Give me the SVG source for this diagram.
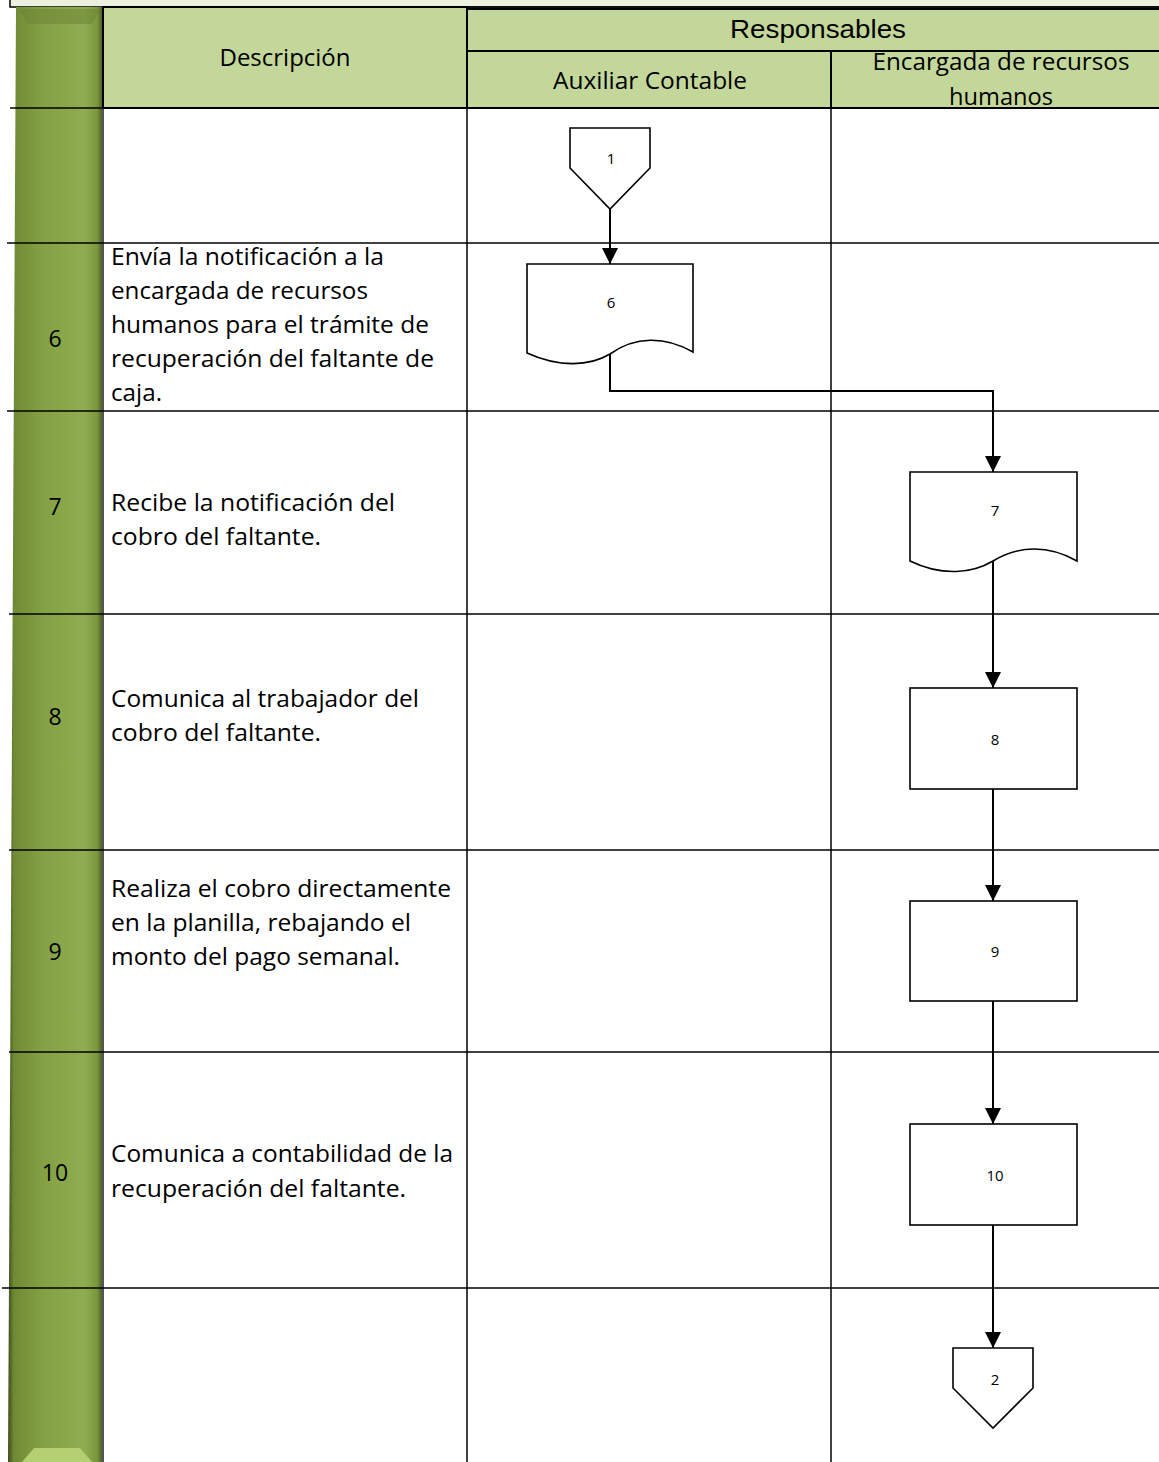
<svg xmlns="http://www.w3.org/2000/svg" width="1159" height="1462" viewBox="0 0 1159 1462">
<defs>
<style>
.t{font-family:"Open Sans","Liberation Sans",sans-serif;font-size:23px;fill:#000}
.h{font-family:"Open Sans","Liberation Sans",sans-serif;font-size:23px;fill:#000;text-anchor:middle}
.r{font-family:"Liberation Sans",Arial,sans-serif;font-size:26px;fill:#000;text-anchor:middle}
.n{font-family:"Open Sans","Liberation Sans",sans-serif;font-size:23px;fill:#000;text-anchor:middle}
.s{font-family:"Open Sans","Liberation Sans",sans-serif;font-size:15px;fill:#000;text-anchor:middle}
.g{stroke:#000;stroke-width:1.5;fill:none}
.hd{fill:#C4D79B;stroke:#000;stroke-width:2}
.sh{fill:#fff;stroke:#000;stroke-width:1.6}
.c{stroke:#000;stroke-width:2;fill:none;marker-end:url(#ah)}
</style>
<linearGradient id="bar" x1="0" y1="0" x2="1" y2="0">
<stop offset="0" stop-color="#3d4a1c"/>
<stop offset="0.06" stop-color="#6f8a34"/>
<stop offset="0.35" stop-color="#84a044"/>
<stop offset="0.8" stop-color="#8fad50"/>
<stop offset="0.93" stop-color="#7a963c"/>
<stop offset="1" stop-color="#3f4a22"/>
</linearGradient>
<marker id="ah" viewBox="0 0 16 16" refX="16" refY="8" markerWidth="16" markerHeight="16" markerUnits="userSpaceOnUse" orient="auto">
<path d="M0,0 L16,8 L0,16 Z" fill="#000"/>
</marker>
</defs>
<rect width="1159" height="1462" fill="#fff"/>
<g id="topstrip">
<rect x="10" y="-2" width="1152" height="9" fill="#EBF1DE" stroke="#000" stroke-width="1.5"/>
</g>
<g id="bar-group">
<polygon points="16,7 103,7 104,1462 8,1462" fill="url(#bar)"/>
<polygon points="19,9 100,9 92,24 27,24" fill="#6a8233" opacity="0.5"/>
<polygon points="22,1462 92,1462 80,1448 34,1448" fill="#b3cf72"/>
<line x1="103" y1="7" x2="103" y2="1462" stroke="#555" stroke-width="2"/>
</g>
<g id="header">
<rect id="h-desc" class="hd" x="103" y="7" width="364" height="101"/>
<rect id="h-resp" class="hd" x="467" y="9" width="694" height="42"/>
<rect id="h-aux" class="hd" x="467" y="51" width="364" height="57"/>
<rect id="h-enc" class="hd" x="831" y="51" width="330" height="57"/>
<line x1="467" y1="7" x2="1159" y2="7" stroke="#000" stroke-width="1.5"/>
<text class="h" x="285" y="66" textLength="131" lengthAdjust="spacingAndGlyphs">Descripción</text>
<text class="r" x="818" y="38" textLength="176" lengthAdjust="spacingAndGlyphs">Responsables</text>
<text class="h" x="650" y="89" textLength="194" lengthAdjust="spacingAndGlyphs">Auxiliar Contable</text>
<text class="h" x="1001" y="70" textLength="257" lengthAdjust="spacingAndGlyphs">Encargada de recursos</text>
<text class="h" x="1001" y="105" textLength="104" lengthAdjust="spacingAndGlyphs">humanos</text>
</g>
<g id="grid">
<line class="g" x1="10" y1="108" x2="1159" y2="108"/>
<line class="g" x1="7" y1="243" x2="1159" y2="243"/>
<line class="g" x1="7" y1="411" x2="1159" y2="411"/>
<line class="g" x1="9" y1="614" x2="1159" y2="614"/>
<line class="g" x1="9" y1="850" x2="1159" y2="850"/>
<line class="g" x1="9" y1="1052" x2="1159" y2="1052"/>
<line class="g" x1="2" y1="1288" x2="1159" y2="1288"/>
<line class="g" x1="467" y1="108" x2="467" y2="1462"/>
<line class="g" x1="831" y1="108" x2="831" y2="1462"/>
</g>
<g id="rownums">
<text class="n" x="55" y="347">6</text>
<text class="n" x="55" y="515">7</text>
<text class="n" x="55" y="725">8</text>
<text class="n" x="55" y="960">9</text>
<text class="n" x="55" y="1181">10</text>
</g>
<g id="descriptions">
<text class="t" x="111" y="265" textLength="273" lengthAdjust="spacingAndGlyphs">Envía la notificación a la</text>
<text class="t" x="111" y="299" textLength="257" lengthAdjust="spacingAndGlyphs">encargada de recursos</text>
<text class="t" x="111" y="333" textLength="318" lengthAdjust="spacingAndGlyphs">humanos para el trámite de</text>
<text class="t" x="111" y="367" textLength="323" lengthAdjust="spacingAndGlyphs">recuperación del faltante de</text>
<text class="t" x="111" y="401" textLength="51" lengthAdjust="spacingAndGlyphs">caja.</text>
<text class="t" x="111" y="511" textLength="284" lengthAdjust="spacingAndGlyphs">Recibe la notificación del</text>
<text class="t" x="111" y="545" textLength="210" lengthAdjust="spacingAndGlyphs">cobro del faltante.</text>
<text class="t" x="111" y="707" textLength="308" lengthAdjust="spacingAndGlyphs">Comunica al trabajador del</text>
<text class="t" x="111" y="741" textLength="210" lengthAdjust="spacingAndGlyphs">cobro del faltante.</text>
<text class="t" x="111" y="897" textLength="340" lengthAdjust="spacingAndGlyphs">Realiza el cobro directamente</text>
<text class="t" x="111" y="931" textLength="300" lengthAdjust="spacingAndGlyphs">en la planilla, rebajando el</text>
<text class="t" x="111" y="965" textLength="289" lengthAdjust="spacingAndGlyphs">monto del pago semanal.</text>
<text class="t" x="111" y="1162" textLength="342" lengthAdjust="spacingAndGlyphs">Comunica a contabilidad de la</text>
<text class="t" x="111" y="1197" textLength="295" lengthAdjust="spacingAndGlyphs">recuperación del faltante.</text>
</g>
<g id="connectors">
<path class="c" d="M610,209 L610,264"/>
<path class="c" d="M610,354 L610,391 L993,391 L993,472"/>
<path class="c" d="M993,561 L993,688"/>
<path class="c" d="M993,789 L993,901"/>
<path class="c" d="M993,1001 L993,1124"/>
<path class="c" d="M993,1225 L993,1348"/>
</g>
<g id="n1">
<path class="sh" d="M570,128 L650,128 L650,168 L610,209 L570,168 Z"/>
<text class="s" x="611" y="164">1</text>
</g>
<g id="n6">
<path class="sh" d="M527,264 L693,264 L693,352 C665,336 635,336 610,354 C590,366 560,368 527,353 Z"/>
<text class="s" x="611" y="308">6</text>
</g>
<g id="n7">
<path class="sh" d="M910,472 L1077,472 L1077,561 C1049,545 1019,545 993,561 C973,573 943,577 910,561 Z"/>
<text class="s" x="995" y="516">7</text>
</g>
<g id="n8">
<rect class="sh" x="910" y="688" width="167" height="101"/>
<text class="s" x="995" y="745">8</text>
</g>
<g id="n9">
<rect class="sh" x="910" y="901" width="167" height="100"/>
<text class="s" x="995" y="957">9</text>
</g>
<g id="n10">
<rect class="sh" x="910" y="1124" width="167" height="101"/>
<text class="s" x="995" y="1181">10</text>
</g>
<g id="n2">
<path class="sh" d="M953,1348 L1033,1348 L1033,1388 L993,1428 L953,1388 Z"/>
<text class="s" x="995" y="1385">2</text>
</g>
</svg>
